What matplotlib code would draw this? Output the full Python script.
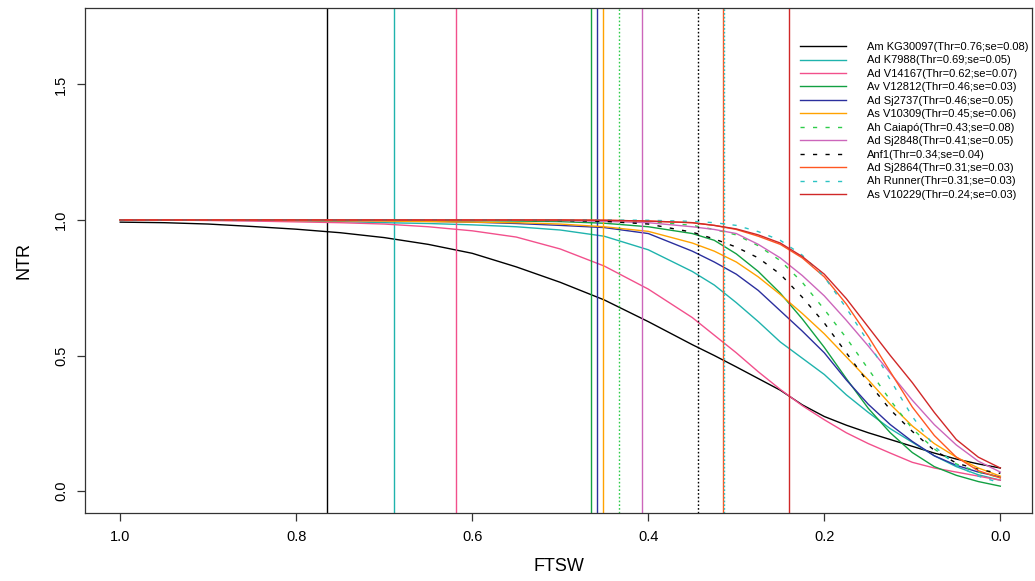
import matplotlib
matplotlib.use('Agg')
import matplotlib.pyplot as plt

plt.rcParams['font.family'] = ['Liberation Sans', 'DejaVu Sans']

## Datos
ftsw = [1.0, 0.95, 0.9, 0.85, 0.8, 0.75, 0.7, 0.65, 0.6, 0.55, 0.5,
        0.45, 0.4, 0.35, 0.325, 0.3, 0.275, 0.25, 0.225, 0.2, 0.175,
        0.15, 0.125, 0.1, 0.075, 0.05, 0.025, 0.0]

am_kg30097 = [0.992, 0.990, 0.985, 0.976, 0.966, 0.953, 0.935, 0.910, 0.877, 0.827, 0.770,
              0.705, 0.625, 0.540, 0.500, 0.458, 0.415, 0.372, 0.318, 0.275, 0.243,
              0.215, 0.190, 0.165, 0.140, 0.118, 0.100, 0.085]
ad_k7988 = [1.0, 1.0, 0.999, 0.998, 0.996, 0.994, 0.990, 0.987, 0.982, 0.975, 0.963,
            0.940, 0.890, 0.810, 0.760, 0.695, 0.625, 0.550, 0.490, 0.430, 0.355,
            0.290, 0.230, 0.180, 0.130, 0.090, 0.060, 0.040]
ad_v14167 = [1.0, 1.0, 0.998, 0.996, 0.993, 0.990, 0.985, 0.975, 0.960, 0.937, 0.893,
             0.830, 0.745, 0.640, 0.575, 0.510, 0.440, 0.375, 0.315, 0.263, 0.215,
             0.175, 0.140, 0.106, 0.085, 0.070, 0.055, 0.040]
av_v12812 = [1.0, 1.0, 1.0, 1.0, 1.0, 0.999, 0.999, 0.998, 0.997, 0.996, 0.994,
             0.988, 0.975, 0.950, 0.925, 0.875, 0.810, 0.730, 0.635, 0.530, 0.415,
             0.305, 0.215, 0.142, 0.090, 0.058, 0.035, 0.018]
ad_sj2737 = [1.0, 1.0, 1.0, 0.999, 0.999, 0.998, 0.997, 0.995, 0.992, 0.987, 0.980,
             0.972, 0.950, 0.885, 0.845, 0.800, 0.740, 0.665, 0.590, 0.510, 0.410,
             0.320, 0.245, 0.183, 0.130, 0.095, 0.070, 0.052]
as_v10309 = [1.0, 1.0, 1.0, 0.999, 0.998, 0.997, 0.996, 0.994, 0.992, 0.990, 0.985,
             0.975, 0.958, 0.915, 0.885, 0.845, 0.790, 0.725, 0.655, 0.580, 0.495,
             0.410, 0.320, 0.240, 0.175, 0.125, 0.085, 0.055]
ah_caiapo = [1.0, 1.0, 1.0, 1.0, 1.0, 1.0, 1.0, 1.0, 1.0, 0.999, 0.999,
             0.998, 0.995, 0.980, 0.965, 0.945, 0.905, 0.850, 0.770, 0.670, 0.565,
             0.450, 0.335, 0.230, 0.155, 0.100, 0.070, 0.050]
ad_sj2848 = [1.0, 1.0, 1.0, 1.0, 1.0, 1.0, 1.0, 0.999, 0.999, 0.999, 0.998,
             0.995, 0.990, 0.975, 0.965, 0.950, 0.910, 0.860, 0.795, 0.720, 0.630,
             0.535, 0.435, 0.335, 0.245, 0.170, 0.110, 0.070]
anf1 = [1.0, 1.0, 1.0, 1.0, 1.0, 1.0, 1.0, 1.0, 0.999, 0.999, 0.998,
        0.995, 0.985, 0.955, 0.930, 0.900, 0.860, 0.800, 0.715, 0.620, 0.510,
        0.400, 0.300, 0.220, 0.150, 0.103, 0.080, 0.065]
ad_sj2864 = [1.0, 1.0, 1.0, 1.0, 1.0, 1.0, 1.0, 1.0, 1.0, 1.0, 1.0,
             0.999, 0.996, 0.990, 0.980, 0.965, 0.940, 0.910, 0.860, 0.790, 0.690,
             0.570, 0.440, 0.310, 0.205, 0.125, 0.075, 0.048]
ah_runner = [1.0, 1.0, 1.0, 1.0, 1.0, 1.0, 1.0, 1.0, 1.0, 1.0, 1.0,
             1.0, 0.999, 0.995, 0.990, 0.980, 0.957, 0.925, 0.870, 0.790, 0.675,
             0.550, 0.410, 0.275, 0.165, 0.095, 0.055, 0.030]
as_v10229 = [1.0, 1.0, 1.0, 1.0, 1.0, 1.0, 1.0, 1.0, 1.0, 1.0, 1.0,
             0.999, 0.996, 0.990, 0.980, 0.967, 0.945, 0.915, 0.865, 0.800, 0.710,
             0.605, 0.500, 0.400, 0.290, 0.190, 0.125, 0.085]

curvas = [am_kg30097, ad_k7988, ad_v14167, av_v12812, ad_sj2737, as_v10309,
          ah_caiapo, ad_sj2848, anf1, ad_sj2864, ah_runner, as_v10229]
umbrales = [0.765, 0.689, 0.618, 0.465, 0.458, 0.451, 0.433, 0.407, 0.344, 0.315, 0.314, 0.240]
etiquetas = ['Am KG30097(Thr=0.76;se=0.08)', 'Ad K7988(Thr=0.69;se=0.05)',
             'Ad V14167(Thr=0.62;se=0.07)', 'Av V12812(Thr=0.46;se=0.03)',
             'Ad Sj2737(Thr=0.46;se=0.05)', 'As V10309(Thr=0.45;se=0.06)',
             'Ah Caiapó(Thr=0.43;se=0.08)', 'Ad Sj2848(Thr=0.41;se=0.05)',
             'Anf1(Thr=0.34;se=0.04)', 'Ad Sj2864(Thr=0.31;se=0.03)',
             'Ah Runner(Thr=0.31;se=0.03)', 'As V10229(Thr=0.24;se=0.03)']
colores = ['#000000', '#1fb3ad', '#f2508c', '#12a042', '#2b2f9e', '#ffa200',
           '#2ecc4a', '#cc66bb', '#000000', '#ff5722', '#2cc3c3', '#d02828']
discontinua = [False, False, False, False, False, False,
               True, False, True, False, True, False]

## Graficar NTR vs FTSW
fig = plt.figure(figsize=(10.35, 5.81), dpi=100)
ax = fig.add_axes([85/1035, 1-513/581, (1032-85)/1035, (513-8)/581])

for y, u, lab, c, d in zip(curvas, umbrales, etiquetas, colores, discontinua):
    if d:
        ax.plot(ftsw, y, color=c, lw=1.0, dashes=(3, 6), label=lab)
        ax.axvline(u, color=c, lw=1.0, dashes=(1.2, 1.5))
    else:
        ax.plot(ftsw, y, color=c, lw=1.0, label=lab)
        ax.axvline(u, color=c, lw=1.0)

ax.set_xlim(1.04, -0.036)
ax.set_ylim(-0.081, 1.782)
ax.set_xticks([1.0, 0.8, 0.6, 0.4, 0.2, 0.0])
ax.set_xticklabels(['1.0', '0.8', '0.6', '0.4', '0.2', '0.0'])
ax.set_yticks([0.0, 0.5, 1.0, 1.5])
ax.set_yticklabels(['0.0', '0.5', '1.0', '1.5'], rotation=90, va='center')
ax.tick_params(direction='out', length=6, width=0.9, labelsize=10.5, pad=6, color='#333333')
for s in ax.spines.values():
    s.set_linewidth(0.9)
    s.set_color('#333333')
ax.set_xlabel('FTSW', fontsize=13, labelpad=10)
ax.set_ylabel('NTR', fontsize=13, labelpad=16)

ax.legend(loc='upper left', bbox_to_anchor=(800/1035, 1-42/581), bbox_transform=fig.transFigure,
          frameon=False, fontsize=8, borderpad=0, borderaxespad=0,
          labelspacing=0.31, handlelength=4.1, handletextpad=1.9)

fig.savefig('out.png', dpi=100)
